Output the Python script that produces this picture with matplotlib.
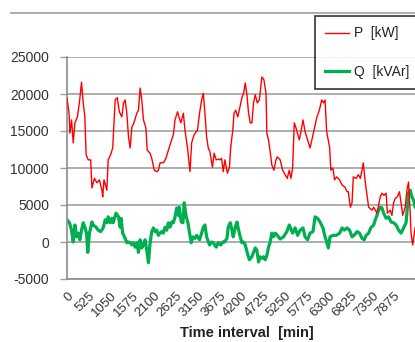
import matplotlib
matplotlib.use('Agg')
import matplotlib.pyplot as plt
from matplotlib.lines import Line2D
import numpy as np

plt.rcParams['font.family'] = ['Liberation Sans', 'DejaVu Sans']

# time [min] and active power P [kW]
p_time = [0, 50, 70, 110, 150, 190, 250, 300, 350, 390, 430, 460, 510, 570, 600,
          660, 720, 780, 840, 860, 890, 960, 990, 1050, 1100, 1160, 1210, 1260, 1320,
          1360, 1400, 1440, 1480, 1520, 1560, 1610, 1680, 1720, 1760, 1800, 1840, 1900,
          1930, 2000, 2040, 2100, 2160, 2200, 2240, 2320, 2380, 2440, 2500, 2560, 2600,
          2660, 2700, 2740, 2800, 2840, 2900, 2960, 3000, 3060, 3110, 3140, 3190, 3240,
          3280, 3320, 3360, 3400, 3440, 3500, 3540, 3590, 3640, 3680, 3720, 3760, 3800,
          3860, 3910, 3940, 3990, 4020, 4060, 4110, 4170, 4210, 4250, 4290, 4330, 4370,
          4410, 4450, 4490, 4530, 4580, 4630, 4690, 4740, 4790, 4810, 4850, 4890, 4930,
          4980, 5030, 5060, 5130, 5190, 5250, 5300, 5350, 5390, 5430, 5470, 5530, 5590,
          5630, 5680, 5730, 5790, 5850, 5910, 5960, 6010, 6050, 6090, 6130, 6170, 6210,
          6250, 6320, 6350, 6400, 6440, 6490, 6560, 6620, 6690, 6740, 6770, 6820, 6860,
          6890, 6960, 7010, 7060, 7100, 7130, 7180, 7220, 7260, 7340, 7380, 7460, 7540,
          7580, 7630, 7680, 7710, 7780, 7820, 7860, 7900, 7950, 8000, 8040, 8080, 8140,
          8180, 8220, 8260, 8280, 8320, 8380, 8440]
p_kw = [19400, 17400, 14700, 16500, 13400, 16100, 16900, 18900, 21600, 18800, 16900,
        11800, 11100, 11100, 7300, 8600, 8000, 8400, 7000, 6100, 8400, 7000, 11100,
        11800, 12700, 19200, 19500, 17600, 16900, 18800, 19200, 17400, 14200, 12700,
        15500, 16100, 17400, 17800, 20800, 19200, 16500, 15400, 12400, 12000, 11300,
        9700, 9500, 9700, 10700, 10700, 11300, 12400, 13500, 14500, 16500, 17600, 16800,
        16100, 17400, 15100, 12700, 9500, 13400, 14500, 14900, 15100, 17400, 19200,
        20100, 17400, 14200, 12700, 12200, 10100, 12000, 11100, 11200, 11100, 11300,
        9500, 11100, 9300, 10100, 12800, 15100, 17400, 17800, 16900, 18500, 19500,
        20100, 21500, 19900, 17400, 16100, 16100, 18800, 19900, 18800, 19200, 22300,
        21900, 20100, 14700, 13800, 12200, 10400, 9700, 11100, 11500, 11100, 9700, 9100,
        8600, 9700, 8600, 10000, 16100, 15100, 13800, 14900, 16500, 14900, 13800, 12700,
        14200, 15500, 16800, 17400, 18200, 19200, 18800, 19200, 14900, 12800, 9700,
        10000, 8400, 8800, 8400, 7700, 7400, 6800, 6800, 4700, 5300, 8800, 8600, 9100,
        8600, 9700, 10700, 8000, 6300, 4700, 4300, 4700, 3900, 6100, 6600, 6300, 6600,
        3900, 4300, 3600, 5300, 5900, 6100, 6800, 5300, 3600, 4700, 7000, 8100, 3900,
        1200, -400, 2000, -200]

# time [min] and reactive power Q [kVAr]
q_time = [0, 60, 110, 150, 190, 230, 270, 310, 350, 390, 430, 470, 500, 540, 600,
          630, 700, 750, 810, 870, 920, 960, 990, 1040, 1080, 1110, 1180, 1240, 1280,
          1300, 1340, 1400, 1440, 1480, 1520, 1560, 1600, 1640, 1680, 1720, 1760, 1800,
          1840, 1880, 1920, 1960, 2000, 2040, 2080, 2120, 2160, 2200, 2240, 2280, 2320,
          2360, 2400, 2440, 2480, 2520, 2560, 2600, 2640, 2680, 2700, 2750, 2790, 2820,
          2870, 2910, 2950, 2990, 3030, 3080, 3120, 3190, 3240, 3280, 3320, 3360, 3430,
          3480, 3520, 3590, 3640, 3700, 3750, 3790, 3850, 3880, 3930, 3970, 4000, 4050,
          4090, 4130, 4170, 4210, 4250, 4290, 4340, 4390, 4450, 4490, 4530, 4570, 4610,
          4650, 4690, 4730, 4770, 4810, 4850, 4890, 4930, 4970, 5010, 5060, 5130, 5210,
          5290, 5350, 5430, 5490, 5550, 5610, 5680, 5730, 5790, 5850, 5920, 5970, 6030,
          6090, 6160, 6210, 6250, 6290, 6330, 6400, 6480, 6560, 6620, 6670, 6740, 6800,
          6860, 6910, 6980, 7040, 7100, 7150, 7200, 7260, 7310, 7380, 7420, 7460, 7500,
          7540, 7580, 7620, 7680, 7740, 7800, 7860, 7920, 7980, 8040, 8100, 8160, 8220,
          8260, 8300, 8340, 8380, 8440]
q_kvar = [3000, 2600, 1600, 0, 2300, 700, 1200, 300, 1600, 2600, 2000, 1200, -1400,
          1200, 2700, 2300, 2000, 1600, 1400, 1900, 3000, 2600, 3400, 2600, 3200, 2600,
          3900, 3400, 2000, 3200, 1200, 500, -100, 0, -100, -400, -100, -700, -100, -1400,
          300, -800, -400, 300, -1100, -2800, -100, 1400, 1900, 1400, 1600, 900, 1200,
          1400, 1200, 2000, 1600, 2600, 2000, 2700, 2600, 3400, 4600, 3600, 4700, 2700,
          2600, 5300, 3400, 2600, 1200, -100, 700, 500, 900, 300, 1200, 2000, 2300, 700,
          -400, 0, -100, -700, -100, -400, 0, 0, 500, 2000, 2600, 1600, 700, 2000, 2700,
          1600, 700, -100, 0, -400, -1500, -2400, -2000, -1400, -800, -1100, -2700, -2000,
          -2200, -2000, -2400, -1800, -700, 0, 1200, 700, 1200, 900, 400, 700, 1400, 2300,
          1200, 1900, 900, 1600, 1900, 700, 300, 1200, 1400, 3400, 3200, 2700, 1900, 700,
          0, -800, 700, 900, 900, 1200, 1900, 1600, 1900, 1600, 700, 900, 1400, 1200, 500,
          300, 900, 1200, 1900, 2300, 3000, 3600, 4300, 4700, 4600, 3900, 3200, 3400,
          2700, 2600, 2300, 1600, 1200, 1900, 2600, 6600, 7000, 6100, 5700, 4700, 4500]

x_ticks = np.arange(0, 7876, 525)
y_ticks = np.arange(-5000, 25001, 5000)

fig = plt.figure(figsize=(4.15, 3.42), dpi=100)
W, H = 415, 342
# plot area runs past the right edge of the picture (cropped chart)
ax = fig.add_axes([67 / W, 1 - 279 / H, 359 / W, 222 / H])

ax.plot(p_time, p_kw, color='#ff0000', lw=1.0, label='P  [kW]', zorder=3)
ax.plot(q_time, q_kvar, color='#00b050', lw=2.3, label='Q  [kVAr]', zorder=2)

ax.set_xlim(0, 8640)
ax.set_ylim(-5000, 25000)
ax.set_yticks(y_ticks)
ax.set_yticklabels([str(v) for v in y_ticks], fontsize=10, color='#333333')
ax.set_xticks(x_ticks)
ax.set_xticklabels([str(v) for v in x_ticks], fontsize=9.5, color='#333333',
                   rotation=45, ha='right', rotation_mode='anchor')
ax.tick_params(axis='y', length=5, width=1, color='#a0a0a0', pad=8)
ax.tick_params(axis='x', length=0, pad=8)
ax.grid(axis='y', color='#a0a0a0', lw=1.2)
ax.set_axisbelow(True)
for s in ['top', 'right']:
    ax.spines[s].set_visible(False)
for s in ['left', 'bottom']:
    ax.spines[s].set_color('#8c8c8c')
    ax.spines[s].set_linewidth(1.2)

ax.set_xlabel('Time interval  [min]', fontsize=10.5, fontweight='bold',
              color='#222222', labelpad=5)

leg = ax.legend(loc='upper left', bbox_to_anchor=(315 / W, 1 - 16 / H),
                bbox_transform=fig.transFigure, frameon=True, fancybox=False,
                edgecolor='black', fontsize=10, handlelength=1.7,
                handletextpad=0.35, labelspacing=1.75, borderpad=0.75,
                borderaxespad=0)
leg.get_frame().set_linewidth(1.2)
for t in leg.get_texts():
    t.set_color('#222222')

# top border of the chart area
fig.add_artist(Line2D([11 / W, 1], [1 - 13 / H, 1 - 13 / H], color='#a0a0a0', lw=1.2,
                      transform=fig.transFigure))

fig.savefig('out.png', dpi=100)
